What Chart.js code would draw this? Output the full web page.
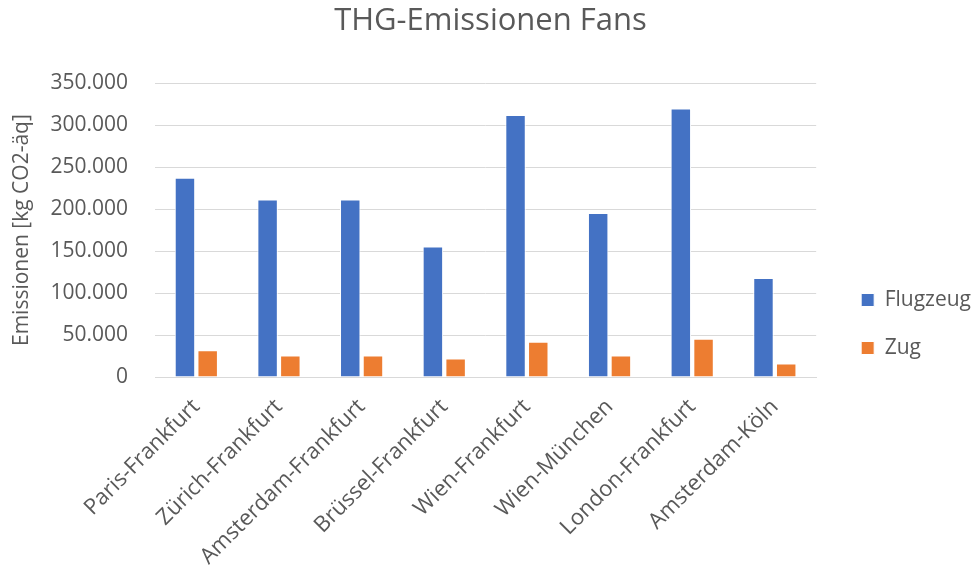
<!DOCTYPE html>
<html lang="de">
<head>
<meta charset="utf-8">
<title>THG-Emissionen Fans</title>
<script src="https://cdn.jsdelivr.net/npm/chart.js@4/dist/chart.umd.min.js"></script>
<style>
  html, body { margin: 0; padding: 0; background: #ffffff; }
  #wrap { width: 976px; height: 575px; }
</style>
</head>
<body>
<div id="wrap"><canvas id="chart" width="976" height="575"></canvas></div>
<script>
// Strecken (Kategorien)
const routes = [
  'Paris-Frankfurt', 'Zürich-Frankfurt', 'Amsterdam-Frankfurt', 'Brüssel-Frankfurt',
  'Wien-Frankfurt', 'Wien-München', 'London-Frankfurt', 'Amsterdam-Köln'
];
// Emissionen je Verkehrsmittel in kg CO2-äq
const flugzeug = [237500, 211500, 211500, 155500, 312000, 195500, 320000, 118000];
const zug = [32000, 25500, 25500, 22000, 42000, 25500, 45500, 16000];
const seriesNames = ['Flugzeug', 'Zug'];
// Achsenbeschriftung
const yTickMax = 350000;
const yTickStep = 50000;
const chartTitle = 'THG-Emissionen Fans';
const yAxisTitle = 'Emissionen [kg CO2-äq]';

const FONT = '"Open Sans", "Liberation Sans", sans-serif';
const TEXT = '#595959';
const GRID = '#d9d9d9';

// Tausendertrennzeichen als Punkt
function formatDe(v) {
  return String(Math.round(v)).replace(/\B(?=(\d{3})+(?!\d))/g, '.');
}

new Chart(document.getElementById('chart'), {
  type: 'bar',
  data: {
    labels: routes,
    datasets: [
      {
        label: seriesNames[0],
        data: flugzeug,
        backgroundColor: '#4472c4',
        borderColor: '#ffffff',
        borderWidth: 1,
        categoryPercentage: 0.55,
        barPercentage: 0.9
      },
      {
        label: seriesNames[1],
        data: zug,
        backgroundColor: '#ed7d31',
        borderColor: '#ffffff',
        borderWidth: 1,
        categoryPercentage: 0.55,
        barPercentage: 0.9
      }
    ]
  },
  options: {
    responsive: false,
    animation: false,
    devicePixelRatio: 1,
    layout: { padding: { left: 0, right: -5, top: 0, bottom: 0 } },
    plugins: {
      title: {
        display: true,
        text: chartTitle,
        color: TEXT,
        font: { family: FONT, size: 31, weight: 'normal' },
        padding: { top: 3, bottom: 43 }
      },
      legend: {
        position: 'right',
        align: 'center',
        title: {
          display: true,
          text: ' ',
          font: { family: FONT, size: 12 },
          padding: { top: 0, bottom: 58.6 }
        },
        labels: {
          color: TEXT,
          font: { family: FONT, size: 21 },
          boxWidth: 13,
          boxHeight: 13,
          padding: 27
        }
      },
      tooltip: { enabled: false }
    },
    scales: {
      x: {
        grid: { display: false, drawTicks: false },
        border: { display: true, color: GRID, width: 1 },
        ticks: {
          color: TEXT,
          font: { family: FONT, size: 22 },
          autoSkip: false,
          minRotation: 45,
          maxRotation: 45,
          padding: 17
        },
        afterFit: (s) => { s.height = 198; }
      },
      y: {
        min: 0,
        max: yTickMax,
        grid: { color: GRID, lineWidth: 1, drawTicks: false },
        border: { display: false },
        ticks: {
          stepSize: yTickStep,
          color: TEXT,
          font: { family: FONT, size: 21 },
          padding: 27,
          callback: (v) => formatDe(v)
        },
        title: {
          display: true,
          text: yAxisTitle,
          color: TEXT,
          font: { family: FONT, size: 21 },
          padding: { top: 9, bottom: 0 }
        },
        afterFit: (s) => { s.width = 155; }
      },
      // schmaler Abstand zwischen Diagrammfläche und Legende
      gap: {
        type: 'linear',
        position: 'right',
        display: true,
        grid: { display: false, drawTicks: false },
        border: { display: false },
        ticks: { display: false },
        afterFit: (s) => { s.width = 18; }
      }
    }
  }
});
</script>
</body>
</html>
